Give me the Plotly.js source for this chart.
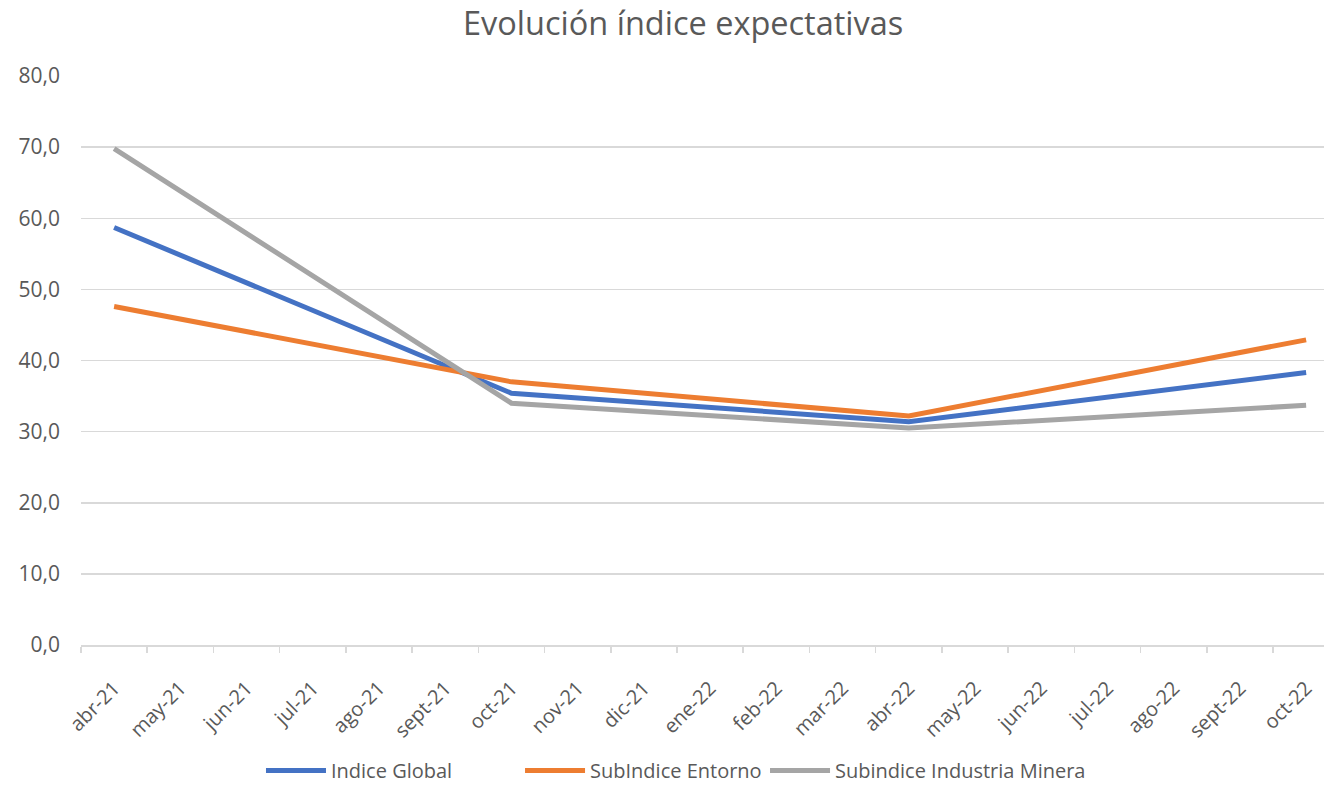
<!DOCTYPE html>
<html>
<head>
<meta charset="utf-8">
<script src="https://cdn.plot.ly/plotly-3.0.1.min.js"></script>
<style>html,body{margin:0;padding:0;background:#fff;}#chart{width:1324px;height:790px;}</style>
</head>
<body>
<div id="chart"></div>
<script>
const categories = ["abr-21","may-21","jun-21","jul-21","ago-21","sept-21","oct-21","nov-21","dic-21","ene-22","feb-22","mar-22","abr-22","may-22","jun-22","jul-22","ago-22","sept-22","oct-22"];
const indiceGlobal =      [58.7,null,null,null,null,null,35.4,null,null,null,null,null,31.4,null,null,null,null,null,38.3];
const subIndiceEntorno =  [47.6,null,null,null,null,null,37.0,null,null,null,null,null,32.2,null,null,null,null,null,42.9];
const subIndiceMinera =   [69.8,null,null,null,null,null,34.0,null,null,null,null,null,30.5,null,null,null,null,null,33.7];
const seriesNames = ["Indice Global","SubIndice Entorno","Subindice Industria Minera"];
const colors = ["#4472C4","#ED7D31","#A5A5A5"];
const legendIds = ["legend","legend2","legend3"];
const legendX = [0.1448, 0.3532, 0.5503];

const font = "Open Sans, Liberation Sans, sans-serif";
const traces = [indiceGlobal, subIndiceEntorno, subIndiceMinera].map((v,i)=>({
  x: categories, y: v, name: seriesNames[i], type: "scatter", mode: "lines",
  connectgaps: true, line: {color: colors[i], width: 5}, hoverinfo: "y", legend: legendIds[i]
}));

const legendBase = (x) => ({orientation: "h", x: x, xanchor: "left", y: -0.221, yanchor: "middle",
  font: {size: 20, color: "#595959"}, itemwidth: 60, bgcolor: "rgba(0,0,0,0)"});

const layout = {
  width: 1324, height: 790,
  margin: {l: 81, r: 0, t: 76, b: 139},
  paper_bgcolor: "#fff", plot_bgcolor: "#fff",
  separators: ",.",
  font: {family: font, color: "#595959", size: 20},
  title: {text: "Evolución índice expectativas", font: {family: font, size: 32.5, color: "#595959"},
          x: 0.516, xref: "container", xanchor: "center", y: 0.970, yref: "container", yanchor: "middle"},
  xaxis: {
    type: "category", range: [-0.5, 18.27], showgrid: false, zeroline: false,
    showline: true, linecolor: "#d9d9d9", linewidth: 1.5,
    ticks: "outside", tickson: "boundaries", ticklen: 6, tickcolor: "#d9d9d9", tickwidth: 1.5,
    tickangle: -45, ticklabelstandoff: 22, tickfont: {size: 20, color: "#595959"}, fixedrange: true
  },
  yaxis: {
    range: [0, 80], dtick: 10, tickformat: ".1f", showgrid: true, gridcolor: "#d9d9d9", gridwidth: 1.5,
    zeroline: false, showline: false, ticks: "", ticklabelstandoff: 20,
    tickfont: {size: 21, color: "#595959"}, fixedrange: true
  },
  showlegend: true,
  legend: legendBase(legendX[0]),
  legend2: legendBase(legendX[1]),
  legend3: legendBase(legendX[2])
};
Plotly.newPlot("chart", traces, layout, {displayModeBar: false, staticPlot: true});
</script>
</body>
</html>
